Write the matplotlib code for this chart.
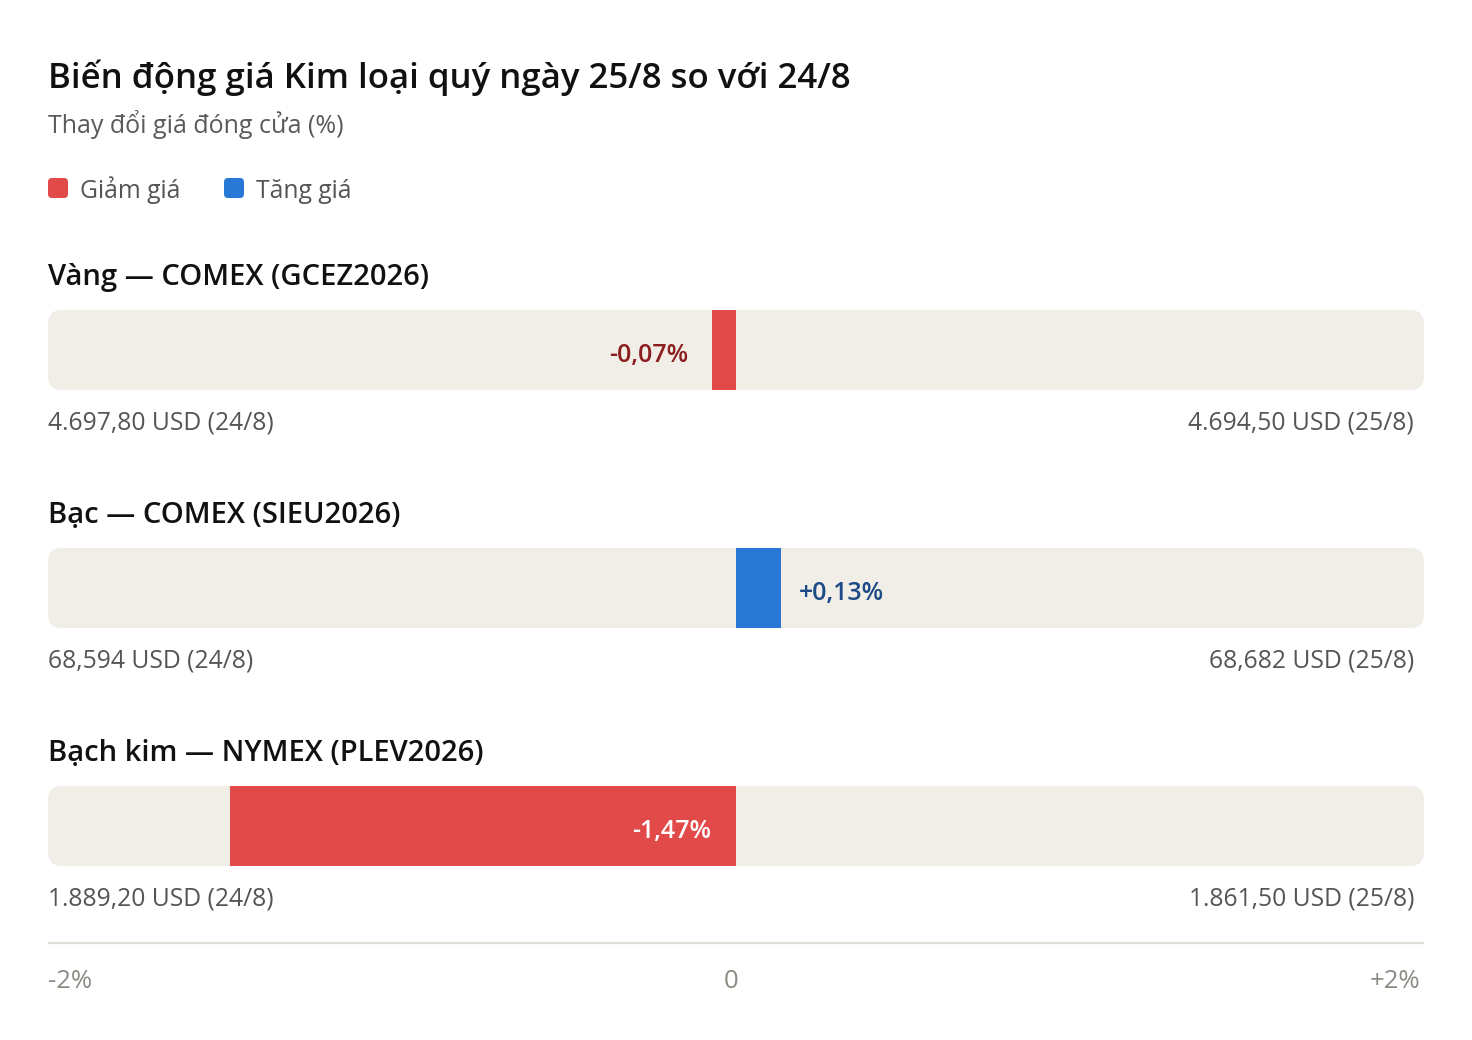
import matplotlib
matplotlib.use("Agg")
import matplotlib.pyplot as plt
from matplotlib.patches import FancyBboxPatch, Rectangle

plt.rcParams['font.family'] = ['Open Sans', 'DejaVu Sans']

title = "Biến động giá Kim loại quý ngày 25/8 so với 24/8"
subtitle = "Thay đổi giá đóng cửa (%)"
legend_labels = ["Giảm giá", "Tăng giá"]

metals = ["Vàng — COMEX (GCEZ2026)", "Bạc — COMEX (SIEU2026)", "Bạch kim — NYMEX (PLEV2026)"]
changes = [-0.07, 0.13, -1.47]
change_labels = ["-0,07%", "+0,13%", "-1,47%"]
price_before = ["4.697,80 USD (24/8)", "68,594 USD (24/8)", "1.889,20 USD (24/8)"]
price_after = ["4.694,50 USD (25/8)", "68,682 USD (25/8)", "1.861,50 USD (25/8)"]
tick_vals = [-2, 0, 2]
tick_labels = ["-2%", "0", "+2%"]

RED = "#E24A4A"
BLUE = "#2A78D6"
TRACK = "#F1EEE8"

W, H = 1472, 1040
fig = plt.figure(figsize=(W / 100, H / 100), dpi=100)
# x in percent (-2..2 -> px 48..1424), y in pixels from top
ax = fig.add_axes([48 / W, 0, 1376 / W, 1])
ax.set_xlim(-2, 2)
ax.set_ylim(H, 0)
ax.axis("off")
px = 4 / 1376  # percent per pixel

def xp(p):
    # pixel x position -> percent units
    return -2 + (p - 48) * px

ax.text(-2, 88, title, fontsize=25, fontweight="semibold", color="#111111", va="baseline", ha="left")
ax.text(-2, 133, subtitle, fontsize=18, color="#5a5a5a", va="baseline", ha="left")

leg_x = [48, 224]
for lx, lab, col in zip(leg_x, legend_labels, [RED, BLUE]):
    ax.add_patch(FancyBboxPatch((xp(lx), 178), 20 * px, 20,
                                boxstyle="round,pad=0,rounding_size=%f" % (4 * px),
                                mutation_aspect=1 / px, fc=col, ec="none"))
    ax.text(xp(lx + 32), 198, lab, fontsize=17.8, color="#555555", va="baseline", ha="left")

for i, (name, val, vlab) in enumerate(zip(metals, changes, change_labels)):
    top = 310 + 238 * i
    ax.text(-2, top - 25, name, fontsize=21, fontweight="semibold", color="#111111", va="baseline", ha="left")
    ax.add_patch(FancyBboxPatch((-2, top), 4, 80,
                                boxstyle="round,pad=0,rounding_size=%f" % (14 * px),
                                mutation_aspect=1 / px, fc=TRACK, ec="none"))
    col = RED if val < 0 else BLUE
    ax.add_patch(Rectangle((min(0, val), top), abs(val), 80, fc=col, ec="none"))
    cy = top + 52
    if abs(val) > 0.5:
        ax.text(-25 * px, cy, vlab, fontsize=18, fontweight="semibold", color="white", va="baseline", ha="right")
    elif val < 0:
        ax.text(val - 24 * px, cy, vlab, fontsize=18, fontweight="semibold", color="#8B1E1E", va="baseline", ha="right")
    else:
        ax.text(val + 18 * px, cy, vlab, fontsize=18, fontweight="semibold", color="#1B4A86", va="baseline", ha="left")
    ax.text(-2, top + 120, price_before[i], fontsize=17.7, color="#555555", va="baseline", ha="left")
    ax.text(xp(1414), top + 120, price_after[i], fontsize=17.7, color="#555555", va="baseline", ha="right")

ax.plot([-2, 2], [943, 943], color="#DEDDD8", lw=1.6, solid_capstyle="butt")
for tv, tl in zip(tick_vals, tick_labels):
    ha = "left" if tv < 0 else ("right" if tv > 0 else "center")
    xpos = tv + (-4 * px if tv > 0 else 0) - (5 * px if tv == 0 else 0)
    ax.text(xpos, 988, tl, fontsize=18.5, color="#8C8C84", va="baseline", ha=ha)

fig.savefig("out.png", dpi=100, facecolor="white")
